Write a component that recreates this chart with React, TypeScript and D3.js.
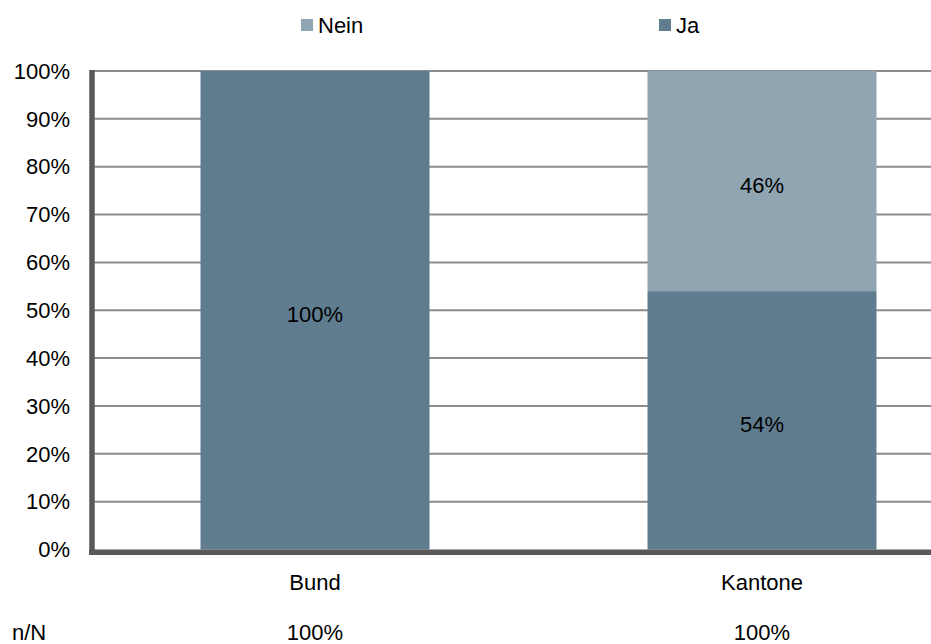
import * as d3 from 'd3';
import { useEffect, useRef } from 'react';

const categories = ['Bund', 'Kantone'];
const jaValues = [100, 54];
const neinValues = [0, 46];
const nTotals = ['100%', '100%'];
const yTicks = [0, 10, 20, 30, 40, 50, 60, 70, 80, 90, 100];

const COLOR_JA = '#5f7d8f';
const COLOR_NEIN = '#8fa5b2';

const App = () => {
  const svgRef = useRef<SVGSVGElement | null>(null);

  useEffect(() => {
    if (!svgRef.current) return;
    const root = d3.select(svgRef.current);
    root.selectAll('*').remove();

    const W = 931;
    const left = 91.5;
    const top = 71;
    const bottom = 549.5;
    const bandW = 447;
    const font = 'Liberation Sans, Arial, sans-serif';
    const fs = '22px';

    const x = d3.scaleBand()
      .domain(categories)
      .range([left, left + bandW * categories.length]);

    const y = d3.scaleLinear().domain([0, 100]).range([bottom, top]);

    // Gridlines
    root.append('g')
      .selectAll('line')
      .data(yTicks.filter(t => t > 0))
      .join('line')
      .attr('x1', left)
      .attr('x2', W)
      .attr('y1', d => y(d))
      .attr('y2', d => y(d))
      .attr('stroke', '#8c8c8c')
      .attr('stroke-width', 2);

    const barW = 229;
    const stacked = categories.map((c, i) => ({
      cat: c,
      ja: jaValues[i],
      nein: neinValues[i],
    }));
    const barX = (c: string) => (x(c) || 0) + x.bandwidth() / 2 - barW / 2;

    // Ja bars
    root.append('g')
      .selectAll('rect')
      .data(stacked)
      .join('rect')
      .attr('x', d => barX(d.cat))
      .attr('width', barW)
      .attr('y', d => y(d.ja))
      .attr('height', d => y(0) - y(d.ja))
      .attr('fill', COLOR_JA);

    // Nein bars
    root.append('g')
      .selectAll('rect')
      .data(stacked.filter(d => d.nein > 0))
      .join('rect')
      .attr('x', d => barX(d.cat))
      .attr('width', barW)
      .attr('y', d => y(d.ja + d.nein))
      .attr('height', d => y(d.ja) - y(d.ja + d.nein))
      .attr('fill', COLOR_NEIN);

    // Value labels
    const labels: { cat: string; v: number; mid: number }[] = [];
    stacked.forEach(d => {
      if (d.ja > 0) labels.push({ cat: d.cat, v: d.ja, mid: d.ja / 2 });
      if (d.nein > 0) labels.push({ cat: d.cat, v: d.nein, mid: d.ja + d.nein / 2 });
    });
    root.append('g')
      .selectAll('text')
      .data(labels)
      .join('text')
      .attr('x', d => (x(d.cat) || 0) + x.bandwidth() / 2)
      .attr('y', d => y(d.mid) + 4)
      .attr('dy', '0.35em')
      .attr('text-anchor', 'middle')
      .style('font-family', font)
      .style('font-size', fs)
      .attr('fill', '#000')
      .text(d => `${d.v}%`);

    // Axis lines
    root.append('line')
      .attr('x1', 92)
      .attr('x2', 92)
      .attr('y1', top - 1)
      .attr('y2', bottom + 5.5)
      .attr('stroke', '#595959')
      .attr('stroke-width', 5.5);
    root.append('line')
      .attr('x1', 89)
      .attr('x2', W)
      .attr('y1', bottom + 2.75)
      .attr('y2', bottom + 2.75)
      .attr('stroke', '#595959')
      .attr('stroke-width', 5.5);

    // Y tick labels
    root.append('g')
      .selectAll('text')
      .data(yTicks)
      .join('text')
      .attr('x', 70)
      .attr('y', d => y(d))
      .attr('dy', '0.35em')
      .attr('text-anchor', 'end')
      .style('font-family', font)
      .style('font-size', fs)
      .attr('fill', '#000')
      .text(d => `${d}%`);

    // X labels
    root.append('g')
      .selectAll('text')
      .data(categories)
      .join('text')
      .attr('x', d => (x(d) || 0) + x.bandwidth() / 2)
      .attr('y', 582)
      .attr('dy', '0.35em')
      .attr('text-anchor', 'middle')
      .style('font-family', font)
      .style('font-size', fs)
      .attr('fill', '#000')
      .text(d => d);

    // n/N row
    root.append('text')
      .attr('x', 12)
      .attr('y', 632)
      .attr('dy', '0.35em')
      .style('font-family', font)
      .style('font-size', fs)
      .text('n/N');
    root.append('g')
      .selectAll('text')
      .data(categories)
      .join('text')
      .attr('x', d => (x(d) || 0) + x.bandwidth() / 2)
      .attr('y', 632)
      .attr('dy', '0.35em')
      .attr('text-anchor', 'middle')
      .style('font-family', font)
      .style('font-size', fs)
      .text((_, i) => nTotals[i]);

    // Legend
    const legend = [
      { name: 'Nein', color: COLOR_NEIN, x: 301 },
      { name: 'Ja', color: COLOR_JA, x: 659 },
    ];
    const lg = root.append('g')
      .selectAll('g')
      .data(legend)
      .join('g')
      .attr('transform', d => `translate(${d.x},25)`);
    lg.append('rect')
      .attr('x', 0)
      .attr('y', -6)
      .attr('width', 12)
      .attr('height', 12)
      .attr('fill', d => d.color);
    lg.append('text')
      .attr('x', 17)
      .attr('y', 0)
      .attr('dy', '0.35em')
      .style('font-family', font)
      .style('font-size', fs)
      .text(d => d.name);
  }, []);

  return (
    <svg
      ref={svgRef}
      width={931}
      height={644}
      style={{ position: 'absolute', left: 0, top: 0, background: '#fff' }}
    />
  );
};

export default App;
